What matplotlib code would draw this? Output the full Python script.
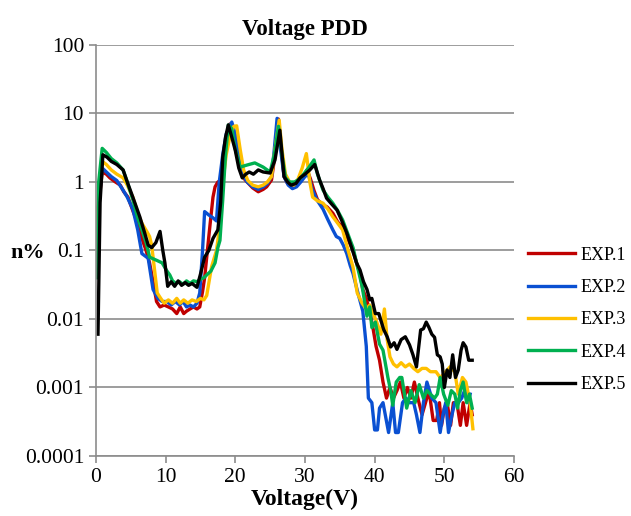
import numpy as np
import matplotlib.pyplot as plt

plt.rcParams['font.family'] = ['Liberation Serif', 'DejaVu Serif']

# (voltage, n%) readings for each experiment
exp1 = [(0.2, 0.3), (0.9, 1.4), (1.5, 1.3), (2.0, 1.15), (2.8, 1.0), (3.5, 0.9), (4.0, 0.72),
        (4.6, 0.6), (5.3, 0.38), (6.0, 0.25), (6.6, 0.15), (7.2, 0.1), (7.7, 0.066), (8.2, 0.035),
        (8.7, 0.018), (9.2, 0.015), (9.8, 0.016), (10.4, 0.015), (11.0, 0.014), (11.6, 0.012),
        (12.1, 0.015), (12.6, 0.012), (13.0, 0.013), (13.5, 0.014), (14.0, 0.015), (14.5, 0.014),
        (14.9, 0.015), (15.3, 0.025), (15.6, 0.04), (16.0, 0.1), (16.4, 0.25), (16.8, 0.6),
        (17.1, 0.85), (17.5, 1.0), (17.9, 1.05), (18.3, 2.5), (18.7, 4.5), (19.2, 7.0), (19.6, 6.5),
        (20.0, 4.0), (20.5, 2.2), (21.0, 1.2), (21.7, 1.0), (22.5, 0.82), (23.3, 0.72), (24.0, 0.78),
        (24.5, 0.85), (25.2, 1.07), (25.7, 2.5), (26.2, 8.3), (26.6, 3.0), (27.0, 1.2), (27.5, 0.95),
        (28.0, 0.88), (28.7, 0.95), (29.3, 1.05), (29.8, 1.2), (30.3, 1.5), (30.8, 1.1), (31.3, 0.75),
        (31.8, 0.55), (32.5, 0.47), (33.2, 0.43), (34.0, 0.35), (34.7, 0.26), (35.4, 0.22),
        (36.0, 0.16), (36.9, 0.1), (37.4, 0.066), (37.9, 0.045), (38.3, 0.027), (38.8, 0.02),
        (39.3, 0.013), (39.8, 0.007), (40.2, 0.004), (40.7, 0.0025), (41.2, 0.0012), (41.7, 0.0007),
        (42.2, 0.001), (42.7, 0.0007), (43.2, 0.0009), (43.7, 0.0012), (44.2, 0.0007), (44.7, 0.001),
        (45.2, 0.0007), (45.7, 0.0012), (46.2, 0.0007), (46.8, 0.0004), (47.3, 0.0006), (47.8, 0.0009),
        (48.4, 0.00033), (48.9, 0.00033), (49.3, 0.0006), (49.6, 0.00028), (50.0, 0.0005),
        (50.4, 0.0006), (50.9, 0.00028), (51.3, 0.0006), (51.8, 0.0006), (52.3, 0.00028),
        (52.7, 0.0006), (53.2, 0.00028), (53.7, 0.0006), (54.0, 0.0004)]

exp2 = [(0.2, 0.3), (0.9, 1.6), (1.5, 1.4), (2.2, 1.2), (3.0, 1.05), (3.9, 0.76), (4.5, 0.6),
        (5.3, 0.4), (6.0, 0.2), (6.6, 0.09), (7.5, 0.077), (8.2, 0.027), (8.9, 0.02), (9.5, 0.018),
        (10.2, 0.018), (10.8, 0.016), (11.4, 0.018), (12.0, 0.016), (12.5, 0.018), (13.0, 0.015),
        (13.5, 0.016), (14.0, 0.015), (14.5, 0.017), (14.9, 0.024), (15.3, 0.1), (15.6, 0.37),
        (16.2, 0.33), (16.8, 0.3), (17.3, 0.27), (17.7, 1.0), (18.2, 2.5), (18.7, 5.0), (19.5, 7.5),
        (20.0, 5.0), (20.5, 2.5), (21.0, 1.3), (21.7, 1.0), (22.5, 0.85), (23.3, 0.78), (24.0, 0.85),
        (24.6, 0.95), (25.2, 1.2), (25.6, 3.0), (26.0, 8.5), (26.5, 3.0), (27.0, 1.2), (27.6, 0.9),
        (28.2, 0.8), (28.8, 0.85), (29.4, 1.0), (30.0, 1.2), (30.5, 1.3), (31.0, 0.8), (31.7, 0.55),
        (32.6, 0.4), (33.3, 0.28), (34.0, 0.2), (34.5, 0.16), (35.0, 0.15), (35.5, 0.12),
        (36.0, 0.09), (36.5, 0.06), (36.9, 0.046), (37.6, 0.024), (38.3, 0.013), (38.8, 0.004),
        (39.1, 0.0007), (39.6, 0.0006), (40.0, 0.00024), (40.4, 0.00024), (40.7, 0.0005),
        (41.2, 0.0006), (42.0, 0.00022), (42.6, 0.0006), (43.0, 0.00022), (43.4, 0.00022),
        (44.0, 0.0006), (44.5, 0.0007), (45.0, 0.0006), (45.6, 0.0006), (46.0, 0.0004),
        (46.5, 0.00022), (47.0, 0.0006), (47.5, 0.0012), (48.2, 0.0007), (48.8, 0.0006),
        (49.4, 0.00022), (49.8, 0.0004), (50.2, 0.0006), (50.6, 0.00022), (51.1, 0.0004),
        (51.5, 0.0006), (52.0, 0.0006), (52.5, 0.0007), (52.9, 0.0009), (53.4, 0.0006), (53.7, 0.0008)]

exp3 = [(0.1, 0.25), (0.9, 2.0), (1.5, 1.8), (2.2, 1.5), (3.0, 1.3), (3.9, 1.15), (4.5, 0.9),
        (5.3, 0.6), (6.0, 0.35), (6.6, 0.25), (7.3, 0.19), (7.7, 0.16), (8.0, 0.12), (8.5, 0.044),
        (8.8, 0.024), (9.3, 0.02), (9.8, 0.017), (10.4, 0.019), (11.0, 0.017), (11.6, 0.02),
        (12.1, 0.017), (12.6, 0.019), (13.2, 0.017), (13.8, 0.019), (14.4, 0.018), (15.0, 0.02),
        (15.5, 0.019), (15.9, 0.022), (16.6, 0.058), (17.3, 0.1), (17.7, 0.2), (18.2, 0.97),
        (18.7, 2.5), (19.3, 5.0), (19.8, 6.5), (20.2, 6.6), (20.7, 3.0), (21.2, 1.5), (21.8, 1.05),
        (22.5, 0.9), (23.3, 0.85), (24.0, 0.9), (24.6, 1.0), (25.2, 1.2), (25.7, 3.0), (26.3, 8.0),
        (26.7, 3.0), (27.2, 1.3), (27.8, 1.0), (28.4, 0.9), (29.0, 1.1), (29.6, 1.6), (30.2, 2.6),
        (30.7, 1.0), (31.1, 0.6), (31.8, 0.53), (32.6, 0.49), (33.3, 0.4), (34.0, 0.31),
        (34.7, 0.25), (35.4, 0.2), (36.2, 0.1), (36.9, 0.057), (37.5, 0.024), (38.2, 0.017),
        (38.8, 0.014), (39.3, 0.016), (39.8, 0.012), (40.3, 0.009), (40.9, 0.006), (41.4, 0.014),
        (41.8, 0.005), (42.2, 0.0028), (42.7, 0.0022), (43.2, 0.002), (43.8, 0.0023), (44.4, 0.002),
        (45.0, 0.0022), (45.6, 0.0019), (46.2, 0.0017), (46.8, 0.0019), (47.4, 0.0019),
        (48.0, 0.0017), (48.8, 0.0017), (49.4, 0.0014), (50.0, 0.0016), (50.8, 0.002),
        (51.5, 0.0017), (52.0, 0.0008), (52.6, 0.0014), (53.1, 0.0012), (53.7, 0.0006), (54.1, 0.00025)]

exp4 = [(0.1, 0.04), (0.4, 1.0), (0.9, 3.1), (1.5, 2.7), (2.2, 2.2), (3.0, 1.9), (3.9, 1.5),
        (4.5, 1.0), (5.3, 0.55), (6.0, 0.3), (6.6, 0.2), (7.2, 0.13), (7.7, 0.08), (8.3, 0.075),
        (8.7, 0.072), (9.5, 0.066), (10.2, 0.05), (10.6, 0.044), (11.0, 0.036), (11.5, 0.033),
        (12.0, 0.035), (12.5, 0.032), (13.0, 0.036), (13.5, 0.033), (14.0, 0.036), (14.5, 0.035),
        (15.0, 0.038), (15.5, 0.04), (15.9, 0.044), (16.5, 0.05), (17.1, 0.066), (17.5, 0.11),
        (17.8, 0.14), (18.2, 0.55), (18.6, 2.5), (19.0, 6.8), (19.5, 6.0), (20.0, 3.0), (20.7, 1.65),
        (21.7, 1.77), (22.8, 1.9), (24.0, 1.65), (25.0, 1.4), (25.6, 2.5), (26.2, 6.5), (26.7, 2.5),
        (27.2, 1.15), (27.8, 1.0), (28.5, 1.0), (29.2, 1.1), (29.8, 1.3), (30.5, 1.6), (31.3, 2.1),
        (31.8, 1.3), (32.6, 0.76), (33.3, 0.6), (34.0, 0.49), (34.7, 0.38), (35.4, 0.28),
        (36.2, 0.17), (36.9, 0.11), (37.5, 0.06), (38.2, 0.03), (38.9, 0.011), (39.3, 0.015),
        (39.6, 0.0075), (40.1, 0.009), (40.7, 0.0043), (41.2, 0.0035), (41.9, 0.0014), (42.3, 0.0009),
        (42.6, 0.00055), (43.1, 0.0012), (43.6, 0.0014), (43.9, 0.0014), (44.6, 0.0005),
        (45.2, 0.0009), (45.8, 0.0006), (46.4, 0.0011), (47.0, 0.0007), (47.5, 0.0009),
        (48.0, 0.0008), (48.6, 0.0007), (49.0, 0.0008), (49.4, 0.0014), (49.9, 0.0008),
        (50.5, 0.00055), (51.0, 0.0009), (51.5, 0.0008), (51.9, 0.0005), (52.3, 0.0009),
        (52.7, 0.0012), (53.2, 0.0006), (53.6, 0.0008), (54.0, 0.0005)]

exp5 = [(0.3, 0.006), (0.6, 0.5), (1.0, 2.5), (1.6, 2.3), (2.2, 2.0), (3.0, 1.8), (3.9, 1.5),
        (4.5, 1.0), (5.3, 0.6), (6.3, 0.31), (7.0, 0.18), (7.5, 0.12), (8.0, 0.11), (8.6, 0.13),
        (9.2, 0.19), (9.6, 0.1), (9.9, 0.066), (10.3, 0.03), (10.8, 0.035), (11.3, 0.03),
        (11.8, 0.036), (12.3, 0.031), (12.8, 0.034), (13.3, 0.031), (13.8, 0.033), (14.5, 0.029),
        (15.0, 0.045), (15.6, 0.08), (16.2, 0.1), (16.8, 0.15), (17.5, 0.2), (17.9, 0.5), (18.2, 2.3),
        (18.6, 4.5), (19.0, 6.8), (19.5, 4.5), (20.0, 2.9), (20.5, 1.6), (21.0, 1.15), (21.5, 1.3),
        (22.0, 1.4), (22.6, 1.3), (23.3, 1.5), (24.0, 1.4), (25.0, 1.35), (25.7, 2.1), (26.4, 5.7),
        (27.0, 1.2), (27.5, 1.0), (28.0, 0.9), (28.7, 0.95), (29.3, 1.15), (30.0, 1.3), (30.7, 1.5),
        (31.4, 1.8), (32.1, 1.07), (32.6, 0.8), (33.1, 0.58), (33.8, 0.48), (34.6, 0.39),
        (35.3, 0.27), (36.0, 0.18), (36.7, 0.11), (37.4, 0.066), (37.9, 0.052), (38.4, 0.035),
        (38.9, 0.027), (39.3, 0.019), (39.6, 0.02), (40.1, 0.012), (40.6, 0.012), (41.3, 0.007),
        (41.8, 0.0055), (42.3, 0.0039), (42.8, 0.0045), (43.2, 0.0036), (43.8, 0.005), (44.4, 0.0055),
        (45.0, 0.0042), (45.5, 0.003), (46.0, 0.002), (46.6, 0.0069), (47.0, 0.0072), (47.4, 0.009),
        (47.8, 0.0075), (48.2, 0.006), (48.6, 0.0054), (49.0, 0.003), (49.4, 0.0028), (49.7, 0.0022),
        (50.0, 0.001), (50.4, 0.0018), (50.8, 0.0014), (51.2, 0.003), (51.6, 0.0014), (52.0, 0.0018),
        (52.4, 0.0035), (52.7, 0.0045), (53.1, 0.0039), (53.5, 0.0025), (54.0, 0.0025)]

labels = ['EXP.1', 'EXP.2', 'EXP.3', 'EXP.4', 'EXP.5']
colors = ['#C00000', '#0A50D2', '#FFC000', '#00B050', '#000000']
y_ticks = [0.0001, 0.001, 0.01, 0.1, 1, 10, 100]
y_ticklabels = ['0.0001', '0.001', '0.01', '0.1', '1', '10', '100']

fig = plt.figure(figsize=(6.31, 5.16), dpi=100)
ax = fig.add_axes([0.152, 0.1163, 0.6626, 0.7965])

for data, lab, col in zip([exp1, exp2, exp3, exp4, exp5], labels, colors):
    v, n = np.array(data).T
    ax.plot(v, n, color=col, lw=2.4, label=lab, solid_joinstyle='round')

ax.set_yscale('log')
ax.set_xlim(0, 60)
ax.set_ylim(1e-4, 100)
ax.set_xticks(range(0, 61, 10))
ax.set_yticks(y_ticks)
ax.set_yticklabels(y_ticklabels)
ax.yaxis.set_minor_locator(plt.NullLocator())
ax.grid(axis='y', color='#8c8c8c', lw=1.2)
ax.set_axisbelow(True)

for side in ['top', 'right']:
    ax.spines[side].set_visible(False)
for side in ['left', 'bottom']:
    ax.spines[side].set_color('#8c8c8c')
    ax.spines[side].set_linewidth(1.2)
ax.tick_params(axis='both', colors='#8c8c8c', labelcolor='black', labelsize=15.5,
               length=5, width=1.2, direction='out')
ax.tick_params(axis='x', pad=4)

ax.set_title('Voltage PDD', fontsize=16.5, fontweight='bold', pad=7)
ax.set_xlabel('Voltage(V)', fontsize=17, fontweight='bold', labelpad=1)
ax.set_ylabel('n%', fontsize=16, fontweight='bold', rotation=0, labelpad=0)
ax.yaxis.set_label_coords(-0.162, 0.47)

ax.legend(loc='center left', bbox_to_anchor=(0.825, 0.38), bbox_transform=fig.transFigure,
          frameon=False, fontsize=13, handlelength=2.6, handletextpad=0.3, labelspacing=0.85,
          borderaxespad=0)

fig.savefig('out.png', dpi=100)
